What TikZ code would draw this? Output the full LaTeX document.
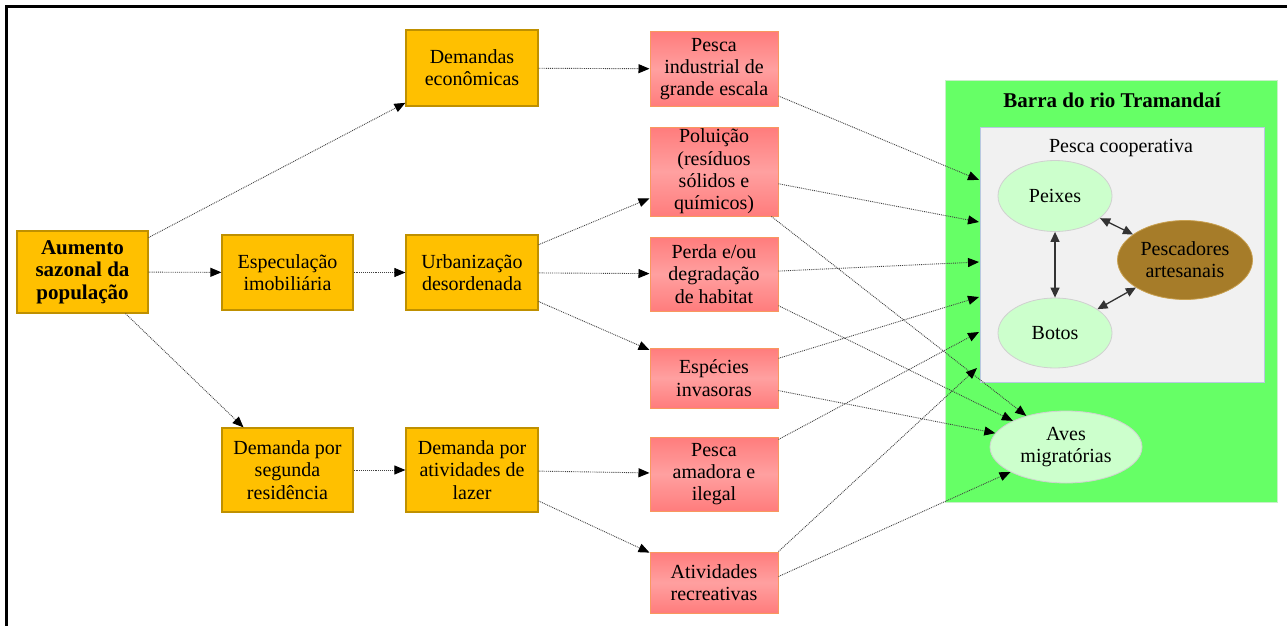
\documentclass[tikz,border=0pt]{standalone}
\usepackage{fontspec}
\setmainfont{Liberation Serif}
\usetikzlibrary{arrows.meta,shapes.geometric}
\definecolor{ora}{HTML}{FFC000}
\definecolor{orab}{HTML}{BF9000}
\definecolor{redt}{HTML}{FF7C7C}
\definecolor{redm}{HTML}{FFA0A0}
\definecolor{redb}{HTML}{F8985E}
\definecolor{grn}{HTML}{66FF66}
\definecolor{grnb}{HTML}{C8F0C8}
\definecolor{gry}{HTML}{F1F1F1}
\definecolor{gryb}{HTML}{B8C8E0}
\definecolor{ell}{HTML}{CCFFCC}
\definecolor{ellb}{HTML}{D0D0D0}
\definecolor{brn}{HTML}{A67C29}
\definecolor{brnb}{HTML}{C8A050}
\definecolor{conn}{HTML}{404040}
\begin{document}
\begin{tikzpicture}[x=1pt,y=-1pt,
  txt/.style={font=\fontsize{20}{22.3}\selectfont},
  btxt/.style={font=\fontsize{21}{22.5}\selectfont\bfseries},
  obox/.style={draw=orab, line width=1.2pt, fill=ora, align=center, inner sep=0pt, txt},
  rbox/.style={draw=redb, line width=1pt, top color=redt, bottom color=redt, middle color=redm, align=center, inner sep=0pt, minimum width=128pt, txt},
  oval/.style={ellipse, draw=ellb, line width=0.8pt, fill=ell, align=center, inner sep=0pt, txt},
  link/.style={densely dotted, conn, line width=0.9pt, -{Triangle[length=11pt,width=9pt,color=black]}},
  both/.style={draw=black!80, line width=1.3pt, {Triangle[length=10pt,width=9pt]}-{Triangle[length=10pt,width=9pt]}}
]
\useasboundingbox (0,0) rectangle (1287,626);
\draw[line width=3pt] (1287,7) -- (6,7) -- (6,626);

% right region
\node[draw=grnb, line width=1pt, fill=grn, minimum width=332pt, minimum height=422pt, inner sep=0pt] (barra) at (1111,291) {};
\node[btxt] (barratit) at (1112,100) {Barra do rio Tramandaí};
\node[draw=gryb, line width=1pt, fill=gry, minimum width=284pt, minimum height=255pt, inner sep=0pt] (coop) at (1122,254.5) {};
\node[txt] (cooptit) at (1121,148) {Pesca cooperativa};
\node[oval, minimum width=114pt, minimum height=71pt] (pe) at (1055,196) {Peixes};
\node[oval, minimum width=114pt, minimum height=70pt] (bo) at (1055,333) {Botos};
\node[oval, draw=brnb, fill=brn, minimum width=135pt, minimum height=79pt] (pa) at (1185,260) {Pescadores\\artesanais};
\node[oval, minimum width=152pt, minimum height=72pt] (av) at (1066,447) {Aves\\migratórias};

% orange boxes
\node[obox, btxt, minimum width=131pt, minimum height=82pt] (au) at (82.5,272) {Aumento\\sazonal da\\população};
\node[obox, minimum width=131pt, minimum height=75pt] (es) at (287.5,272.5) {Especulação\\imobiliária};
\node[obox, minimum width=132pt, minimum height=76pt] (de) at (472,68) {Demandas\\econômicas};
\node[obox, minimum width=132pt, minimum height=75pt] (ur) at (472,272.5) {Urbanização\\desordenada};
\node[obox, minimum width=131pt, minimum height=84pt] (sr) at (287.5,470) {Demanda por\\segunda\\residência};
\node[obox, minimum width=132pt, minimum height=84pt] (lz) at (472,470) {Demanda por\\atividades de\\lazer};

% red boxes
\node[rbox, minimum height=74pt] (pi) at (714,69) {Pesca\\industrial de\\grande escala};
\node[rbox, minimum height=89pt] (po) at (714,171.5) {Poluição\\(resíduos\\sólidos e\\químicos)};
\node[rbox, minimum height=74pt] (pd) at (714,274) {Perda e/ou\\degradação\\de habitat};
\node[rbox, minimum height=60pt] (ei) at (714,378) {Espécies\\invasoras};
\node[rbox, minimum height=74pt] (pm) at (714,474) {Pesca\\amadora e\\ilegal};
\node[rbox, minimum height=61pt] (ar) at (714,582.5) {Atividades\\recreativas};

% free ends on the cooperative box edge
\coordinate (c1) at (979,180);
\coordinate (c2) at (979,222);
\coordinate (c3) at (979,262);
\coordinate (c4) at (979,297);
\coordinate (c5) at (979,332);
\coordinate (c6) at (977,368);

% connectors
\draw[link] (au) -- (de);
\draw[link] (au) -- (es);
\draw[link] (au) -- (sr);
\draw[link] (es) -- (ur);
\draw[link] (de) -- (pi);
\draw[link] (ur) -- (po);
\draw[link] (ur) -- (pd);
\draw[link] (ur) -- (ei);
\draw[link] (sr) -- (lz);
\draw[link] (lz) -- (pm);
\draw[link] (lz) -- (ar);

\draw[link] (pi) -- (c1);
\draw[link] (po) -- (c2);
\draw[link] (po) -- (av);
\draw[link] (pd) -- (c3);
\draw[link] (pd) -- (av);
\draw[link] (ei) -- (c4);
\draw[link] (ei) -- (av);
\draw[link] (pm) -- (c5);
\draw[link] (ar.north east) -- (c6);
\draw[link] ([yshift=6pt]ar.east) -- (av);

\draw[both] (pe) -- (bo);
\draw[both] (pe) -- (pa);
\draw[both] (bo) -- (pa);
\end{tikzpicture}
\end{document}
